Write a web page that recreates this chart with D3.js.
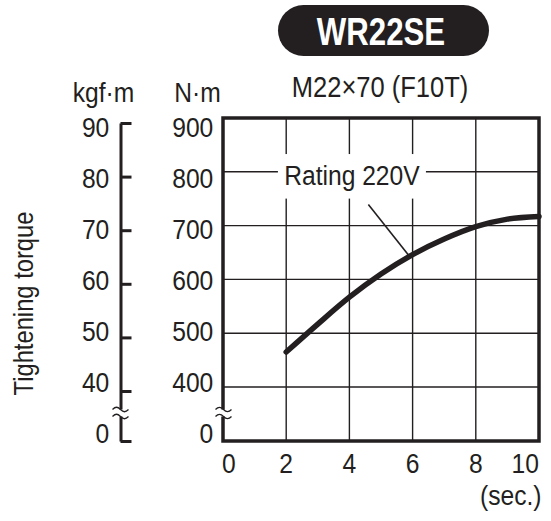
<!DOCTYPE html>
<html>
<head>
<meta charset="utf-8">
<script src="https://cdn.jsdelivr.net/npm/d3@7"></script>
<style>
  body { margin: 0; background: #fff; }
  text { font-family: "Liberation Sans", Arial, sans-serif; fill: #231f20; }
</style>
</head>
<body>
<div id="chart"></div>
<script>
// data
var seconds = [2, 3, 4, 5, 6, 7, 8, 9, 10];
var torque = [465, 517, 567, 610, 646, 675, 698, 712, 717];   // N·m at 220V

var secTicks = [0, 2, 4, 6, 8, 10];
var nmTicks = [0, 400, 500, 600, 700, 800, 900];
var kgfTicks = [0, 40, 50, 60, 70, 80, 90];
var nmGrid = [400, 500, 600, 700, 800];
var secGrid = [2, 4, 6, 8];

var svgWidth = 551;
var svgHeight = 521;
var ink = "#231f20";
var sx = 0.88; // condensed look of the original type

var svg = d3.select("#chart")
  .append("svg")
  .attr("width", svgWidth)
  .attr("height", svgHeight);

// scales (axis is broken between 0 and 400)
var x = d3.scaleLinear().domain([0, 10]).range([223, 539]);
var y = d3.scaleLinear().domain([0, 400, 900]).range([441, 387, 118]);
var yKgf = d3.scaleLinear().domain([0, 40, 90]).range([441, 391, 123]);
// baselines of the tick labels sit a little inside the grid
var yLabel = d3.scaleLinear().domain([0, 400, 900]).range([443, 391.7, 136.7]);

function label(g, px, py, txt, size, anchor, extra) {
  var t = g.append("text")
    .attr("transform", "translate(" + px + "," + py + ")" + (extra || "") + " scale(" + sx + ",1)")
    .attr("text-anchor", anchor || "middle")
    .style("font-size", size + "px")
    .text(txt);
  return t;
}

// title pill
svg.append("rect")
  .attr("x", 278).attr("y", 5)
  .attr("width", 211).attr("height", 51)
  .attr("rx", 25.5)
  .attr("fill", ink);
svg.append("text")
  .attr("transform", "translate(381,45) scale(0.79,1)")
  .attr("text-anchor", "middle")
  .style("font-size", "39.5px")
  .style("font-weight", "bold")
  .style("fill", "#fff")
  .text("WR22SE");

label(svg, 380, 97, "M22×70 (F10T)", 29);

// gridlines
var grid = svg.append("g");
grid.selectAll(".vg")
  .data(secGrid)
  .enter()
  .append("line")
  .attr("x1", d => x(d)).attr("x2", d => x(d))
  .attr("y1", y(900)).attr("y2", y(0))
  .attr("stroke", ink).attr("stroke-width", 1.4);
grid.selectAll(".hg")
  .data(nmGrid)
  .enter()
  .append("line")
  .attr("x1", x(0)).attr("x2", x(10))
  .attr("y1", d => y(d)).attr("y2", d => y(d))
  .attr("stroke", ink).attr("stroke-width", 1.4);

// annotation box hides the grid behind the label
var labelX = x(4.08), labelY = y(776);
svg.append("rect")
  .attr("x", labelX - 74).attr("y", y(833))
  .attr("width", 148).attr("height", y(700) - y(833) - 27)
  .attr("fill", "#fff");

// curve
var line = d3.line()
  .x(d => x(d[0]))
  .y(d => y(d[1]))
  .curve(d3.curveMonotoneX);
svg.append("path")
  .datum(seconds.map((s, i) => [s, torque[i]]))
  .attr("d", line)
  .attr("fill", "none")
  .attr("stroke", ink)
  .attr("stroke-width", 5.5)
  .attr("stroke-linecap", "round");

// leader line and label
svg.append("line")
  .attr("x1", x(4.6)).attr("y1", y(739))
  .attr("x2", x(5.9)).attr("y2", y(643))
  .attr("stroke", ink).attr("stroke-width", 1.6);
label(svg, labelX, labelY, "Rating 220V", 28);

// frame
svg.append("rect")
  .attr("x", x(0)).attr("y", y(900))
  .attr("width", x(10) - x(0)).attr("height", y(0) - y(900))
  .attr("fill", "none")
  .attr("stroke", ink)
  .attr("stroke-width", 3.5);

// kgf·m axis
var kgfAxis = d3.axisRight(yKgf)
  .tickValues(kgfTicks)
  .tickSize(11)
  .tickSizeOuter(0)
  .tickFormat("");
var kg = svg.append("g")
  .attr("transform", "translate(120.5,0)")
  .call(kgfAxis);
kg.select(".domain").attr("stroke", ink).attr("stroke-width", 3);
kg.selectAll(".tick line").attr("stroke", ink).attr("stroke-width", 3);

// axis breaks
function axisBreak(cx, cy) {
  svg.append("rect")
    .attr("x", cx - 5).attr("y", cy - 3.5)
    .attr("width", 10).attr("height", 7)
    .attr("fill", "#fff");
  [-3.5, 3.5].forEach(function(o) {
    svg.append("path")
      .attr("d", "M" + (cx - 8) + "," + (cy + o) + " c3,-3 5,-3 8,0 s5,3 8,0")
      .attr("fill", "none")
      .attr("stroke", ink)
      .attr("stroke-width", 1.3);
  });
}
axisBreak(120.5, 413);
axisBreak(223.5, 413);

// tick labels
var labels = svg.append("g");
nmTicks.forEach(function(v) {
  label(labels, 213.3, yLabel(v), v, 28, "end");
});
kgfTicks.forEach(function(v) {
  label(labels, 109.3, yLabel(v * 10), v, 28, "end");
});
secTicks.forEach(function(v, i) {
  var anchor = i === 0 ? "start" : (i === secTicks.length - 1 ? "end" : "middle");
  var px = i === 0 ? x(v) - 1 : (i === secTicks.length - 1 ? x(v) : x(v));
  label(labels, px, 473, v, 28, anchor);
});

// units and axis titles
label(svg, 103.5, 101.5, "kgf·m", 28);
label(svg, 197.5, 101.5, "N·m", 28);
label(svg, 541.5, 505, "(sec.)", 28, "end");
label(svg, 33, 303.5, "Tightening torque", 27, "middle", " rotate(-90)");
</script>
</body>
</html>
